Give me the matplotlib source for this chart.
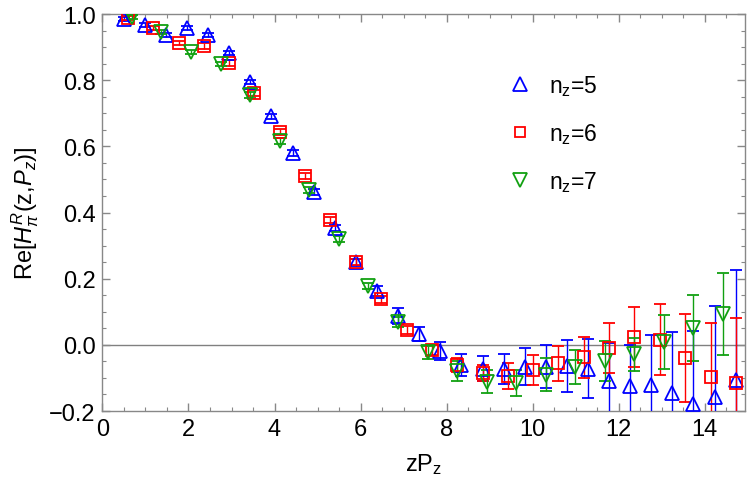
import matplotlib
matplotlib.use("Agg")
import matplotlib.pyplot as plt
from matplotlib.lines import Line2D
from matplotlib.ticker import MultipleLocator

plt.rcParams['font.family'] = ['Liberation Sans', 'DejaVu Sans']
plt.rcParams['mathtext.fontset'] = 'custom'
plt.rcParams['mathtext.rm'] = 'Liberation Sans'
plt.rcParams['mathtext.it'] = 'Liberation Sans:italic'
plt.rcParams['mathtext.bf'] = 'Liberation Sans:bold'

# nz = 5
x5 = [0.49, 0.98, 1.47, 1.96, 2.45, 2.95, 3.44, 3.93, 4.42, 4.91, 5.40, 5.89, 6.38, 6.87, 7.36,
      7.85, 8.34, 8.84, 9.33, 9.82, 10.31, 10.80, 11.29, 11.78, 12.27, 12.76, 13.25, 13.74, 14.24, 14.73]
y5 = [0.985, 0.967, 0.937, 0.958, 0.937, 0.882, 0.794, 0.691, 0.580, 0.462, 0.353, 0.250, 0.163, 0.087, 0.033,
      -0.018, -0.060, -0.072, -0.072, -0.066, -0.066, -0.064, -0.072, -0.109, -0.124, -0.122, -0.146, -0.179, -0.158, -0.106]
e5 = [0.005, 0.005, 0.005, 0.006, 0.006, 0.007, 0.007, 0.008, 0.008, 0.009, 0.010, 0.011, 0.015, 0.025, 0.020,
      0.027, 0.033, 0.038, 0.045, 0.055, 0.065, 0.078, 0.090, 0.115, 0.125, 0.152, 0.186, 0.220, 0.276, 0.333]

# nz = 6
x6 = [0.59, 1.18, 1.77, 2.36, 2.95, 3.53, 4.12, 4.71, 5.30, 5.89, 6.48, 7.07, 7.66, 8.25, 8.84,
      9.42, 10.01, 10.60, 11.19, 11.78, 12.37, 12.96, 13.55, 14.14, 14.73]
y6 = [0.988, 0.958, 0.912, 0.903, 0.852, 0.761, 0.643, 0.510, 0.377, 0.250, 0.138, 0.045, -0.016, -0.061, -0.085,
      -0.094, -0.076, -0.055, -0.037, -0.010, 0.024, 0.015, -0.040, -0.098, -0.116]
e6 = [0.005, 0.006, 0.006, 0.008, 0.008, 0.008, 0.009, 0.009, 0.010, 0.010, 0.010, 0.012, 0.015, 0.020, 0.025,
      0.038, 0.045, 0.053, 0.062, 0.075, 0.090, 0.107, 0.133, 0.165, 0.198]

# nz = 7
x7 = [0.69, 1.37, 2.06, 2.75, 3.44, 4.12, 4.81, 5.50, 6.18, 6.87, 7.56, 8.25, 8.93, 9.62, 10.31,
      10.99, 11.68, 12.37, 13.05, 13.74, 14.43]
y7 = [0.991, 0.946, 0.885, 0.849, 0.755, 0.616, 0.468, 0.320, 0.178, 0.069, -0.022, -0.079, -0.112, -0.115, -0.091,
      -0.067, -0.049, -0.028, 0.008, 0.051, 0.093]
e7 = [0.005, 0.006, 0.007, 0.007, 0.008, 0.008, 0.009, 0.010, 0.010, 0.015, 0.020, 0.030, 0.035, 0.040, 0.050,
      0.050, 0.060, 0.050, 0.082, 0.100, 0.124]

labels = [r'n$_\mathregular{z}$=5', r'n$_\mathregular{z}$=6', r'n$_\mathregular{z}$=7']
colors = ['#0000FF', '#FF0000', '#11A011']
markers = ['^', 's', 'v']

fig = plt.figure(figsize=(7.47, 4.85), dpi=100)
ax = fig.add_axes([0.1372, 0.1505, 0.8601, 0.8185])

ax.axhline(0, color='#808080', lw=1.0, zorder=1)

series = [(x5, y5, e5), (x6, y6, e6), (x7, y7, e7)]
for (xs, ys, es), c, m in zip(series, colors, markers):
    ax.errorbar(xs, ys, yerr=es, fmt=m, color=c, mfc='none', mec=c, ms=10 if m != 's' else 9,
                mew=1.3, elinewidth=1.0, capsize=4, capthick=1.0, zorder=3)

handles = [Line2D([], [], ls='none', marker=m, color=c, mfc='none', mew=1.3,
                  ms=9.5 if m != 's' else 7.5) for c, m in zip(colors, markers)]
ax.legend(handles, labels, loc='upper left', bbox_to_anchor=(0.61, 0.874), frameon=False,
          fontsize=16.5, labelspacing=1.0, handlelength=1.4, handletextpad=0.6, borderaxespad=0)

ax.set_xlim(0, 14.94)
ax.set_ylim(-0.2, 1.0)
ax.xaxis.set_major_locator(MultipleLocator(2))
ax.xaxis.set_minor_locator(MultipleLocator(0.5))
ax.yaxis.set_major_locator(MultipleLocator(0.2))
ax.yaxis.set_minor_locator(MultipleLocator(0.05))
ax.tick_params(which='both', direction='in', top=True, right=True, color='#888888',
               labelsize=17, pad=5)
ax.tick_params(which='major', length=5.5, width=1.0)
ax.tick_params(which='minor', length=3.2, width=0.8)
ax.set_yticks([-0.2, 0.0, 0.2, 0.4, 0.6, 0.8, 1.0])
ax.set_yticklabels(['\u22120.2', '0.0', '0.2', '0.4', '0.6', '0.8', '1.0'])
for s in ax.spines.values():
    s.set_color('#888888')
    s.set_linewidth(1.0)

ax.set_xlabel(r'zP$_\mathregular{z}$', fontsize=17, labelpad=8)
ax.set_ylabel(r'Re[$H_\pi^R$(z,$P_z$)]', fontsize=17, labelpad=6)

fig.savefig('out.png', dpi=100)
